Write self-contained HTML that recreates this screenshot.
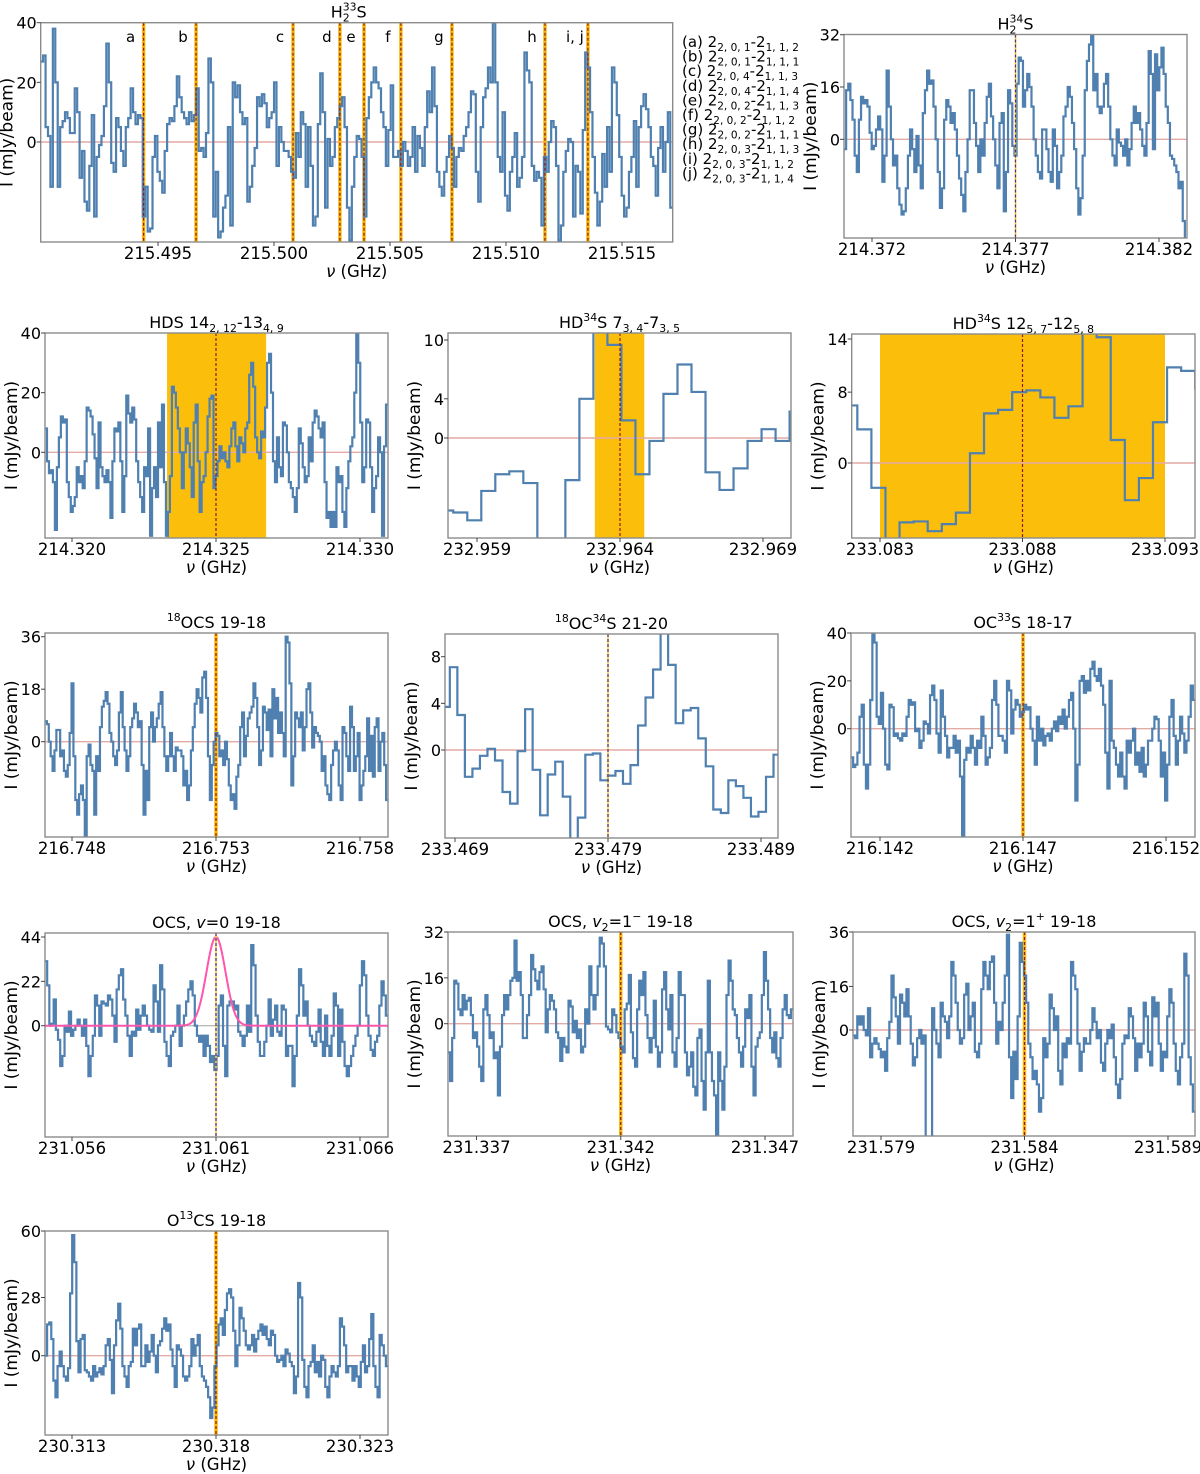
<!DOCTYPE html>
<html><head><meta charset="utf-8">
<style>
html,body{margin:0;padding:0;background:#fff;}
svg{display:block;font-family:"DejaVu Sans","Liberation Sans",sans-serif;}
</style></head>
<body>
<svg id="fig" width="1200" height="1474" viewBox="0 0 1200 1474" xmlns="http://www.w3.org/2000/svg"></svg>
<script>
// ---------- data ----------
const h33sValues=[27,29,5,2,-15,38,20,-15,5,7,10,8,3,3,18,10,-12,-3,-20,-23,-8,9,-25,-5,-1,2,12,33,20,-7,-10,8,5,-3,-8,5,8,18,10,6,9,8,-25,-15,-30,-29,-5,2,-10,-13,-17,-3,6,8,7,12,22,15,10,8,6,10,7,9,18,-3,-2,-5,3,28,20,-25,-10,-32,-30,-22,-18,5,-28,20,15,19,10,6,8,-20,-15,-8,-2,15,12,16,13,5,8,10,20,-8,5,0,-3,-3,-5,-10,-12,3,-5,10,6,-15,5,-8,-28,-25,6,23,10,-22,1,-8,-5,5,8,12,15,5,-22,-33,-15,-5,2,1,-5,-25,8,15,20,25,20,18,10,5,-8,4,19,-5,-5,-3,-8,0,-3,-8,-5,5,-10,2,-2,-8,5,17,10,25,12,-10,-15,-18,-10,-5,2,-2,-15,-5,-2,-3,2,5,10,17,16,-10,-20,5,15,18,25,20,40,20,-5,-10,10,-18,-23,-10,-5,3,-15,-12,-5,30,24,20,-8,-13,-10,-12,-28,-5,-10,0,7,5,-8,-33,-28,-10,-3,1,0,-25,-8,-10,-24,4,30,25,10,-5,-17,-28,-20,-4,-15,5,-10,25,20,9,-5,-18,-25,-22,-10,-5,7,-15,5,12,16,11,5,-5,-8,-18,-2,5,-10,0,10,-22];
const h33sLineFreqs=[215.49438,215.49664,215.50082,215.50284,215.50388,215.50547,215.50767,215.51168,215.51353];
const h33sLineLetters=["a","b","c","d","e","f","g","h","i, j"];
const h34sValues=[-3,15,17,12,6,-5,-10,6,13,11,12,10,2,-3,-2,3,7,3,-13,-5,21,10,0,-8,-5,-15,-20,-23,-22,-15,-5,3,-3,-10,1,-8,-15,8,15,21,17,18,10,0,-10,-21,-15,6,12,10,5,8,3,-5,-12,-17,-22,-10,0,15,15,5,-2,-10,0,-5,5,13,17,7,0,-8,-15,5,8,-22,-10,15,11,-2,-5,17,25,24,10,15,20,16,10,0,-5,-10,-12,3,3,-3,-10,-13,3,-2,-15,-10,-5,7,10,16,13,5,-3,-15,-23,-18,-5,15,24,29,32,15,20,10,8,10,17,20,10,0,-5,-8,3,-1,-2,-5,0,-8,-3,5,10,5,8,3,-2,-5,5,27,20,-3,26,15,22,28,20,10,5,-5,-6,-8,-10,-15,-13,-25,-32];
const hdsValues=[8,-3,-7,-6,-10,-26,-5,5,12,10,11,-10,-15,-20,-18,-15,-5,-10,-8,-12,-3,15,14,12,6,-2,-12,10,-5,-8,-10,-6,-10,-22,-3,8,7,10,-3,-20,-8,19,13,10,15,11,-3,-10,-15,-20,-5,-8,8,-28,-12,-5,-15,10,-5,16,-10,-28,-20,-8,22,20,15,8,0,-12,0,8,3,-5,-15,10,16,-3,-20,-10,-8,0,12,18,19,-12,-8,-3,2,-2,0,-3,-5,2,8,10,2,-3,5,3,0,8,10,26,30,22,5,0,-2,7,5,15,30,33,20,-3,-10,5,-5,-8,10,9,0,-10,-12,-15,-20,-12,8,3,-5,-10,-8,5,-3,10,14,12,8,5,10,-10,-22,-20,-25,-20,-25,-5,-10,-8,-20,-25,-12,-3,2,5,20,40,30,10,-10,-5,11,10,-5,-20,-12,-8,5,0,-28,2,16];
const hd34sAValues=[-7.4,-7.6,-8.4,-5.4,-3.7,-3.4,-4.6,-11,-11,-4.3,4,11,9.5,1.8,-3.7,-0.3,4.5,7.5,4.7,-3.5,-5.3,-3.1,-0.3,0.9,-0.3,2.7];
const hd34sBValues=[6.5,3.8,-2.8,-9,-6.7,-6.6,-7.7,-6.9,-5.6,1.1,5.6,6.0,8.0,8.2,7.4,5.1,6.4,14.8,14.2,2.6,-4.2,-1.7,4.6,10.8,10.4,8.4];
const o18csValues=[7,6,0,-5,-10,-3,4,4,-5,-3,-10,-12,-8,3,20,-5,-20,-25,-18,-15,-20,-35,-5,-1,-8,-10,-25,-5,-10,5,12,14,17,13,3,0,-5,-8,-3,10,17,5,-3,-10,-5,5,8,13,10,5,7,-8,-25,-10,-20,5,10,0,5,8,13,17,5,-5,-10,-5,3,-5,-10,-2,-3,-3,-5,-15,-10,-20,-15,-3,5,13,18,15,10,22,24,15,-5,-20,-8,0,3,2,-5,-3,-8,0,-6,-15,-20,-18,-23,-12,-8,5,10,-5,2,8,10,12,20,15,5,-8,-3,12,10,4,11,-5,18,8,15,3,10,3,-5,36,34,20,-15,-5,10,8,5,10,-3,5,18,20,10,-2,5,3,2,0,-10,-5,-15,-18,-20,-8,-3,0,-3,-15,-20,5,3,-5,-10,12,5,-10,-5,3,-20,-15,-10,-5,8,-10,2,-12,5,8,-10,0,3,-8,-20];
const o18c34sValues=[3.7,7.1,3.0,-2.3,-1.6,-0.5,0.1,-0.9,-3.6,-4.6,-0.1,3.5,-1.7,-5.6,-2.1,-1.0,-4.0,-9,-5.8,-0.4,-0.3,-2.6,-2.2,-1.8,-2.9,-1.3,2.1,4.5,6.9,10.2,7.3,2.3,3.4,3.6,1.0,-1.4,-5.1,-5.4,-2.6,-3.1,-4.1,-5.7,-5.3,-2.3,-0.4,2.6];
const oc33sValues=[-12,-16,-15,-10,5,10,-15,-25,-15,12,40,36,5,2,15,0,-15,-17,10,9,-3,-2,-4,-5,-2,-3,5,12,10,11,-1,0,-8,-5,3,2,-2,14,18,12,-2,-10,16,5,-3,-12,-8,-8,-3,-10,-5,-20,-55,-13,-8,-10,-3,-8,-15,-5,-8,5,-3,-15,-12,-8,12,20,10,-3,-3,-5,-10,20,16,-2,8,12,10,5,7,10,8,9,0,-5,-15,5,-5,0,-7,-3,-2,-5,0,3,-1,5,2,8,0,5,12,15,0,-30,-15,20,22,15,20,16,25,28,22,20,25,18,10,-10,-25,20,-5,-8,-15,-20,-10,-20,-25,-5,-10,-5,0,-15,-10,-18,-8,-20,-15,-5,-5,0,5,4,-5,-20,-10,-30,-15,5,12,-3,-15,-5,5,-2,-10,-5,5,18,12];
const ocsV0Values=[32,20,0,1,13,-2,-7,-20,-15,0,-3,7,-5,-2,0,3,0,-5,3,-10,-25,-15,-5,15,10,-5,12,11,10,15,13,5,-8,18,25,28,13,5,-5,-15,-3,-5,8,-2,5,10,5,0,-2,-3,20,12,-3,30,18,-8,-15,-20,-5,-3,0,10,-10,0,5,12,18,22,15,0,-5,-8,-5,-15,-5,-10,-18,-15,-22,-15,10,15,-10,-25,10,12,12,8,10,-3,-5,-10,-5,10,-3,40,30,5,-8,-15,-15,-8,0,13,-5,3,10,-3,-5,10,8,-15,-10,-10,-30,-15,5,28,20,5,12,0,-5,-8,-10,-3,8,-8,-15,5,-10,-15,-5,16,10,-15,8,-8,-20,-25,-20,-15,-10,-5,0,20,32,25,5,-5,-12,-15,-8,-5,10,22,15,5];
const ocsFitAmp=[44];
const ocsFitCenter=[231.061];
const ocsFitSigma=[0.00033];
const ocsV2mValues=[-10,-20,-5,15,14,5,3,10,5,8,9,3,-5,-3,-8,-15,-20,5,10,3,-5,-3,-12,-10,-25,-8,3,10,5,10,15,16,29,15,18,10,-5,-5,3,10,24,19,15,12,18,20,12,-3,5,10,8,5,-3,-5,-13,-5,-8,-10,8,6,-3,1,-5,-2,-10,-8,5,0,20,10,5,10,20,30,28,20,-1,-2,-3,5,3,-3,-5,-8,-10,5,7,17,-3,-12,-15,5,15,10,18,3,-5,-10,-5,8,-8,-15,-10,12,18,5,-2,10,-10,-15,-5,18,10,10,-10,-18,-15,-10,-22,-25,-5,-2,-20,-30,-10,15,-10,-20,-25,-40,-10,-20,-30,-15,10,22,15,5,3,-5,-10,-15,-8,5,2,10,-15,-25,-8,-5,-3,10,25,15,5,-5,-10,-3,-12,-15,-5,5,10,3,2,5];
const ocsV2pValues=[-2,-3,5,2,5,0,-2,8,-10,-5,-3,-5,-7,-10,-8,-15,-3,3,20,12,5,-5,13,10,5,15,5,-5,-13,-10,-3,0,-5,-2,-48,-50,-40,8,0,-5,-10,10,5,3,-3,5,25,20,10,0,-5,-3,13,17,0,5,10,-8,-10,-5,15,25,20,15,25,27,10,-5,3,0,10,20,35,-10,-25,-8,-18,5,32,25,20,10,-5,-10,-18,-15,-20,-30,-25,-3,-10,-5,13,8,0,5,-15,-20,-5,-10,-3,-5,25,20,15,-5,-15,-8,-3,-5,-5,0,8,3,-3,0,-12,-15,-5,0,-3,2,-10,-20,-25,-18,-5,-2,-3,8,5,-3,-15,-5,-10,-5,10,5,-8,-13,12,5,10,-5,-15,-8,-10,5,15,10,-5,-15,-20,-10,-5,28,20,-10,-20,-30];
const o13csValues=[0,15,16,8,-12,-20,-5,2,-5,-10,-12,-6,30,58,45,7,-8,8,10,-7,-8,-10,-12,-5,-10,-8,-6,-9,-5,5,8,-2,-18,5,17,25,13,-5,-10,-15,-5,-3,13,5,13,15,-5,-5,5,-3,2,10,0,-8,5,7,13,18,12,15,3,-5,-15,5,3,0,-10,-12,-10,-5,8,0,5,10,-5,-10,-12,-15,-20,-30,-25,-5,5,15,18,10,22,30,32,28,12,-5,5,23,18,12,5,3,5,10,2,8,12,15,10,14,8,5,12,10,0,-3,-2,0,-5,3,1,-3,-5,-18,-10,35,28,-2,-15,-20,-5,-3,5,-8,-3,-10,0,-2,-15,-20,-10,-5,-8,-10,-5,18,14,5,-8,-5,-5,-12,-5,-10,-15,-3,5,-8,-5,8,20,-5,-15,-20,10,5,0,-5];

// ---------- panel configs (layout only) ----------
const panels=[
 {id:"h2-33s",box:[40.7,22.7,672.7,242],xr:[215.495,158,215.515,622],yr:[40,22.7,0,142],xt:[215.495,215.500,215.505,215.510,215.515],yt:[0,20,40],vals:h33sValues,lines:h33sLineFreqs,lineStyle:"thick",title:[["H"],["2","sub"],["33","sup"],["S"]]},
 {id:"h2-34s",box:[844,34.5,1187,238],xr:[214.372,872,214.382,1159],yr:[32,34.7,0,139.3],xt:[214.372,214.377,214.382],yt:[0,16,32],vals:h34sValues,lines:[214.377],lineStyle:"thin",title:[["H"],["2","sub"],["34","sup"],["S"]]},
 {id:"hds",box:[45,333,388,538],xr:[214.320,72,214.330,360],yr:[40,333,0,452.3],xt:[214.320,214.325,214.330],yt:[0,20,40],vals:hdsValues,band:[214.3233,214.32674],lines:[214.325],lineStyle:"dash",title:[["HDS 14"],["2, 12","sub"],["-13"],["4, 9","sub"]]},
 {id:"hd34s-7",box:[448,333,791,538],xr:[232.959,477,232.969,763],yr:[10,340,0,438],xt:[232.959,232.964,232.969],yt:[0,4,10],vals:hd34sAValues,f0:232.95768,df:0.00049,band:[232.96312,232.96485],lines:[232.964],lineStyle:"dash",title:[["HD"],["34","sup"],["S 7"],["3, 4","sub"],["-7"],["3, 5","sub"]]},
 {id:"hd34s-12",box:[851.7,334,1195,538],xr:[233.083,880,233.093,1165],yr:[14,339,0,463],xt:[233.083,233.088,233.093],yt:[0,8,14],vals:hd34sBValues,f0:233.08171,df:0.000494,band:[233.083,233.093],lines:[233.088],lineStyle:"dash",title:[["HD"],["34","sup"],["S 12"],["5, 7","sub"],["-12"],["5, 8","sub"]]},
 {id:"18ocs",box:[45,633,388,837],xr:[216.748,72,216.758,360],yr:[36,636.7,0,741.7],xt:[216.748,216.753,216.758],yt:[0,18,36],vals:o18csValues,lines:[216.753],lineStyle:"thick",title:[["18","sup"],["OCS 19-18"]]},
 {id:"18oc34s",box:[445,634,778,838],xr:[233.469,455,233.489,761],yr:[8,656.7,0,750],xt:[233.469,233.479,233.489],yt:[0,4,8],vals:o18c34sValues,f0:233.46817,df:0.000492,lines:[233.479],lineStyle:"thin",title:[["18","sup"],["OC"],["34","sup"],["S 21-20"]]},
 {id:"oc33s",box:[851,633,1195,837],xr:[216.142,880,216.152,1166],yr:[40,633,0,728.7],xt:[216.142,216.147,216.152],yt:[0,20,40],vals:oc33sValues,lines:[216.147],lineStyle:"thick",title:[["OC"],["33","sup"],["S 18-17"]]},
 {id:"ocs-v0",box:[45,933,388,1137],xr:[231.056,72,231.066,360],yr:[44,937,0,1025.7],xt:[231.056,231.061,231.066],yt:[0,22,44],vals:ocsV0Values,lines:[231.061],lineStyle:"thin",fit:true,title:[["OCS, "],["v","it"],["=0 19-18"]]},
 {id:"ocs-v2m",box:[448,932,793,1136],xr:[231.337,476.5,231.347,765],yr:[32,932,0,1023.7],xt:[231.337,231.342,231.347],yt:[0,16,32],vals:ocsV2mValues,lines:[231.342],lineStyle:"thick",title:[["OCS, "],["v","it"],["2","sub"],["=1"],["−","sup"],[" 19-18"]]},
 {id:"ocs-v2p",box:[853,932,1195,1136],xr:[231.579,881,231.589,1168],yr:[36,932,0,1030],xt:[231.579,231.584,231.589],yt:[0,16,36],vals:ocsV2pValues,lines:[231.584],lineStyle:"thick",title:[["OCS, "],["v","it"],["2","sub"],["=1"],["+","sup"],[" 19-18"]]},
 {id:"o13cs",box:[45,1231,388,1435],xr:[230.313,72,230.323,360],yr:[60,1231,0,1355.7],xt:[230.313,230.318,230.323],yt:[0,28,60],vals:o13csValues,lines:[230.318],lineStyle:"thick",title:[["O"],["13","sup"],["CS 19-18"]]}
];

const NS="http://www.w3.org/2000/svg";
const fig=document.getElementById("fig");
function mk(tag,attrs,parent){const e=document.createElementNS(NS,tag);for(const k in attrs)e.setAttribute(k,attrs[k]);(parent||fig).appendChild(e);return e;}

function addTitle(parent,x,y,parts,size){
  const t=mk("text",{x:x,y:y,"text-anchor":"middle","font-size":size,fill:"#000"},parent);
  let prev=0,prevType=null,prevLen=0;
  parts.forEach(p=>{
    const s=mk("tspan",{},t);
    s.textContent=p[0];
    let shift=0;
    if(p[1]==="sub"){s.setAttribute("font-size",size*0.68);shift=4;}
    else if(p[1]==="sup"){s.setAttribute("font-size",size*0.68);shift=-7;}
    else if(p[1]==="it"){s.setAttribute("font-style","italic");}
    if(shift!==prev)s.setAttribute("dy",shift-prev);
    if(p[1]==="sup"&&prevType==="sub"&&prevLen===1)s.setAttribute("dx",-size*0.68*0.64);
    prev=shift;prevType=p[1]||null;prevLen=p[0].length;
  });
  return t;
}

panels.forEach((P,pi)=>{
  const [bx0,by0,bx1,by1]=P.box;
  const g=mk("g",{});
  
  
  const xs=f=>P.xr[1]+(f-P.xr[0])*(P.xr[3]-P.xr[1])/(P.xr[2]-P.xr[0]);
  const ys=v=>P.yr[1]+(v-P.yr[0])*(P.yr[3]-P.yr[1])/(P.yr[2]-P.yr[0]);
  const fAt=x=>P.xr[0]+(x-P.xr[1])*(P.xr[2]-P.xr[0])/(P.xr[3]-P.xr[1]);
  const cid="clip"+pi;
  const cp=mk("clipPath",{id:cid},g);
  mk("rect",{x:bx0,y:by0,width:bx1-bx0,height:by1-by0},cp);
  const inner=mk("g",{"clip-path":"url(#"+cid+")"},g);
  if(P.band){
    const b=mk("rect",{x:xs(P.band[0]),y:by0,width:xs(P.band[1])-xs(P.band[0]),height:by1-by0,fill:"#fbbf0b"},inner);
    
    
  }
  const z=mk("line",{x1:bx0,x2:bx1,y1:ys(0),y2:ys(0),stroke:P.fit?"#bbbbbb":"#e4aaa4","stroke-width":1.4},inner);
  
  
  const drawLine=(f,front)=>{
    const x=xs(f);
    if(P.lineStyle==="thick"&&!front){
      mk("line",{x1:x,x2:x,y1:by0,y2:by1,stroke:"#f6b90c","stroke-width":3.5},inner);
    }
    if(front){
      if(P.lineStyle==="thin")mk("line",{x1:x,x2:x,y1:by0,y2:by1,stroke:"#f2d23a","stroke-width":1.6},inner);
      const d=mk("line",{x1:x,x2:x,y1:by0,y2:by1,stroke:P.lineStyle==="thin"?"#5a2a7a":"#8e1b1b","stroke-width":1.2,"stroke-dasharray":"3,2"},inner);
      
      
    }
  };
  P.lines.forEach(f=>drawLine(f,false));
  const n=P.vals.length;
  let f0,df;
  if(P.f0!==undefined){f0=P.f0;df=P.df;}
  else{f0=fAt(bx0);df=(fAt(bx1)-f0)/n;}
  let d="";
  for(let i=0;i<n;i++){
    const xa=xs(f0+i*df),xb=xs(f0+(i+1)*df),y=ys(P.vals[i]);
    d+=(i===0?"M"+xa+","+y:"V"+y)+"H"+xb;
  }
  const sp=mk("path",{d:d,fill:"none",stroke:"#4f80b0","stroke-width":2.2,"stroke-linejoin":"miter"},inner);
  
  
  if(P.fit){
    let fd="";
    for(let x=bx0;x<=bx1;x+=1){
      const f=fAt(x);
      const v=ocsFitAmp[0]*Math.exp(-0.5*Math.pow((f-ocsFitCenter[0])/ocsFitSigma[0],2));
      fd+=(x===bx0?"M":"L")+x+","+ys(v);
    }
    const fp=mk("path",{d:fd,fill:"none",stroke:"#ff55aa","stroke-width":2},inner);
    
    
  }
  P.lines.forEach(f=>drawLine(f,true));
  const fr=mk("rect",{x:bx0,y:by0,width:bx1-bx0,height:by1-by0,fill:"none",stroke:"#8c8c8c","stroke-width":1.4},g);
  
  
  P.xt.forEach(t=>{
    const x=xs(t);
    mk("line",{x1:x,x2:x,y1:by1,y2:by1+4,stroke:"#444","stroke-width":1},g);
    const tl=mk("text",{x:x,y:by1+17,"text-anchor":"middle","font-size":16.5,fill:"#000"},g);
    tl.textContent=t.toFixed(3);
    
    
  });
  P.yt.forEach(t=>{
    const y=ys(t);
    mk("line",{x1:bx0-4,x2:bx0,y1:y,y2:y,stroke:"#444","stroke-width":1},g);
    const tl=mk("text",{x:bx0-4,y:y+6,"text-anchor":"end","font-size":16,fill:"#000"},g);
    tl.textContent=String(t);
    
    
  });
  const xl=mk("text",{x:(bx0+bx1)/2,y:by1+35,"text-anchor":"middle","font-size":16.5,fill:"#000"},g);
  const nu=mk("tspan",{"font-style":"italic"},xl);nu.textContent="ν";
  const rest=mk("tspan",{},xl);rest.textContent=" (GHz)";
  
  
  const ylx=bx0-28, yly=(by0+by1)/2;
  const yl=mk("text",{x:ylx,y:yly,"text-anchor":"middle","font-size":17,fill:"#000",transform:"rotate(-90 "+ylx+" "+yly+")"},g);
  yl.textContent="I (mJy/beam)";
  
  
  const tt=addTitle(g,(bx0+bx1)/2-(pi===0?8:0),by0-5,P.title,16);
  
  
  if(pi===0){
    h33sLineFreqs.forEach((f,i)=>{
      const lt=mk("text",{x:xs(f)-13,y:42,"text-anchor":"middle","font-size":15,fill:"#000"},g);
      lt.textContent=h33sLineLetters[i];
      
      
    });
  }
});

const legendRows=[["(a) ","2,0,1","1,1,2"],["(b) ","2,0,1","1,1,1"],["(c) ","2,0,4","1,1,3"],["(d) ","2,0,4","1,1,4"],["(e) ","2,0,2","1,1,3"],["(f)  ","2,0,2","1,1,2"],["(g) ","2,0,2","1,1,1"],["(h) ","2,0,3","1,1,3"],["(i)  ","2,0,3","1,1,2"],["(j)  ","2,0,3","1,1,4"]];
const lg=mk("g",{});


legendRows.forEach((r,i)=>{
  const t=mk("text",{x:682,y:47+i*14.6,"font-size":15,fill:"#000","xml:space":"preserve"},lg);
  
  
  const a=mk("tspan",{},t);a.textContent=r[0]+"2";
  const b=mk("tspan",{"font-size":10.5,dy:4},t);b.textContent=r[1].split(",").join(", ");
  const c=mk("tspan",{dy:-4},t);c.textContent="-2";
  const d=mk("tspan",{"font-size":10.5,dy:4},t);d.textContent=r[2].split(",").join(", ");
});
</script>
</body></html>
